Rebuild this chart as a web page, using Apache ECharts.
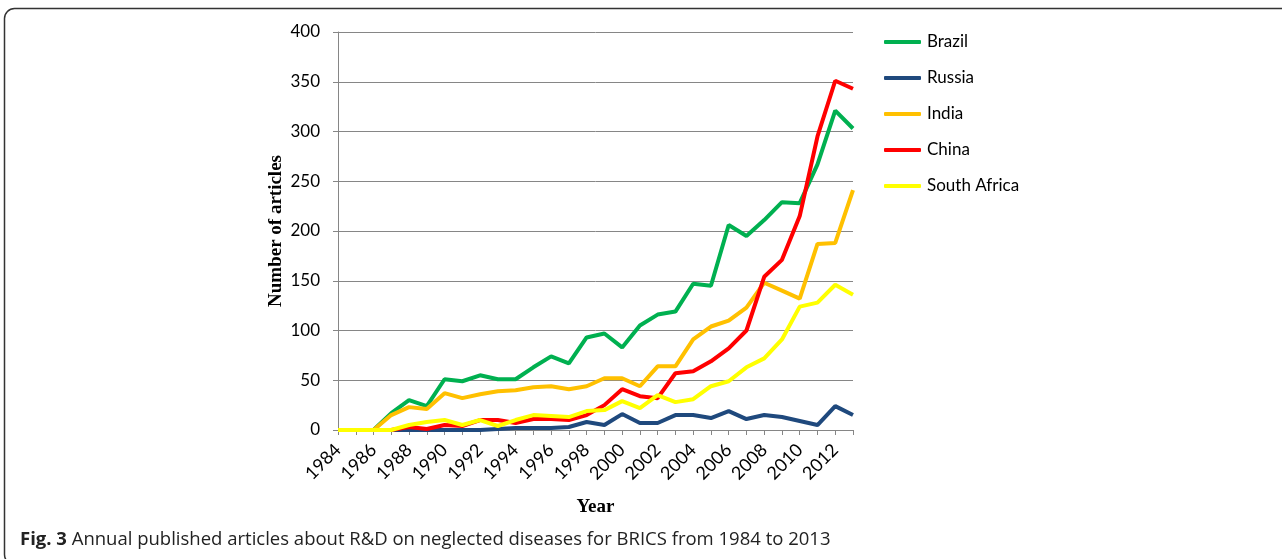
<!DOCTYPE html>
<html>
<head>
<meta charset="utf-8">
<script src="https://cdn.jsdelivr.net/npm/echarts@6/dist/echarts.min.js"></script>
<style>
html,body{margin:0;padding:0;background:#fff;}
#chart{width:1282px;height:559px;}
</style>
</head>
<body>
<div id="chart"></div>
<script>
const years = ['1984','1985','1986','1987','1988','1989','1990','1991','1992','1993','1994','1995','1996','1997','1998','1999','2000','2001','2002','2003','2004','2005','2006','2007','2008','2009','2010','2011','2012','2013'];
const brazil = [0,0,0,17,30,24,51,49,55,51,51,63,74,67,93,97,83,105,116,119,147,145,206,195,211,229,228,267,321,303];
const russia = [0,0,0,0,0,0,0,0,0,1,2,2,2,3,8,5,16,7,7,15,15,12,19,11,15,13,9,5,24,15];
const india = [0,0,0,15,23,21,37,32,36,39,40,43,44,41,44,52,52,44,64,64,91,104,110,123,148,140,132,187,188,241];
const china = [0,0,0,0,3,1,5,4,10,10,7,11,11,10,15,25,41,34,32,57,59,69,82,100,154,171,215,295,351,343];
const southAfrica = [0,0,0,0,5,8,10,5,10,4,10,15,14,13,19,20,29,22,35,28,31,44,49,63,72,91,124,128,146,136];
const seriesNames = ['Brazil','Russia','India','China','South Africa'];
const seriesColors = ['#00B050','#1F497D','#FFC000','#FF0000','#FFFF00'];
const seriesData = [brazil, russia, india, china, southAfrica];

const chart = echarts.init(document.getElementById('chart'), null, {renderer:'canvas'});
const labelFont = 'Lato, "Noto Sans", sans-serif';
const option = {
  animation: false,
  backgroundColor: '#fff',
  grid: {left: 338, right: 429, top: 32, bottom: 129, containLabel: false},
  legend: {
    orient: 'vertical', left: 879, top: 27,
    icon: 'roundRect',
    itemWidth: 37, itemHeight: 4, itemGap: 16,
    textStyle: {fontFamily: labelFont, fontSize: 17, lineHeight: 20, color: '#000', padding: [0,0,0,1]},
    data: seriesNames
  },
  xAxis: {
    type: 'category', data: years, boundaryGap: false,
    name: 'Year', nameLocation: 'middle', nameGap: 68,
    nameTextStyle: {fontFamily: '"Liberation Serif", "DejaVu Serif", serif', fontWeight: 'bold', fontSize: 19, color: '#000'},
    axisLine: {lineStyle: {color: '#868686', width: 1}},
    axisTick: {show: true, interval: 0, length: 5, lineStyle: {color: '#868686'}},
    axisLabel: {interval: 1, rotate: 45, margin: 17, fontFamily: labelFont, fontSize: 18, color: '#000'},
    splitLine: {show: false}
  },
  yAxis: {
    type: 'value', min: 0, max: 400, interval: 50,
    name: 'Number of articles', nameLocation: 'middle', nameGap: 52, nameRotate: 90,
    nameTextStyle: {fontFamily: '"Liberation Serif", "DejaVu Serif", serif', fontWeight: 'bold', fontSize: 19, color: '#000'},
    axisLine: {show: true, lineStyle: {color: '#868686', width: 1}},
    axisTick: {show: true, length: 5, lineStyle: {color: '#868686'}},
    axisLabel: {margin: 18, fontFamily: labelFont, fontSize: 17, color: '#000'},
    splitLine: {show: true, lineStyle: {color: '#868686', width: 1}}
  },
  series: seriesNames.map((n, i) => ({
    name: n, type: 'line', data: seriesData[i], symbol: 'none',
    lineStyle: {color: seriesColors[i], width: 4},
    itemStyle: {color: seriesColors[i]}
  })),
  graphic: [
    {type: 'rect', shape: {x: 4.5, y: 8.5, width: 1320, height: 556, r: 10},
     style: {fill: 'none', stroke: '#333', lineWidth: 1.5}, silent: true},
    {type: 'text', left: 20, top: 530,
     style: {
       text: '{b|Fig. 3} Annual published articles about R&D on neglected diseases for BRICS from 1984 to 2013',
       font: '18.5px "Open Sans", sans-serif', fill: '#222',
       rich: {b: {fontFamily: '"Open Sans", sans-serif', fontWeight: 'bold', fontSize: 18.5, fill: '#222'}}
     }}
  ]
};
chart.setOption(option);
</script>
</body>
</html>
